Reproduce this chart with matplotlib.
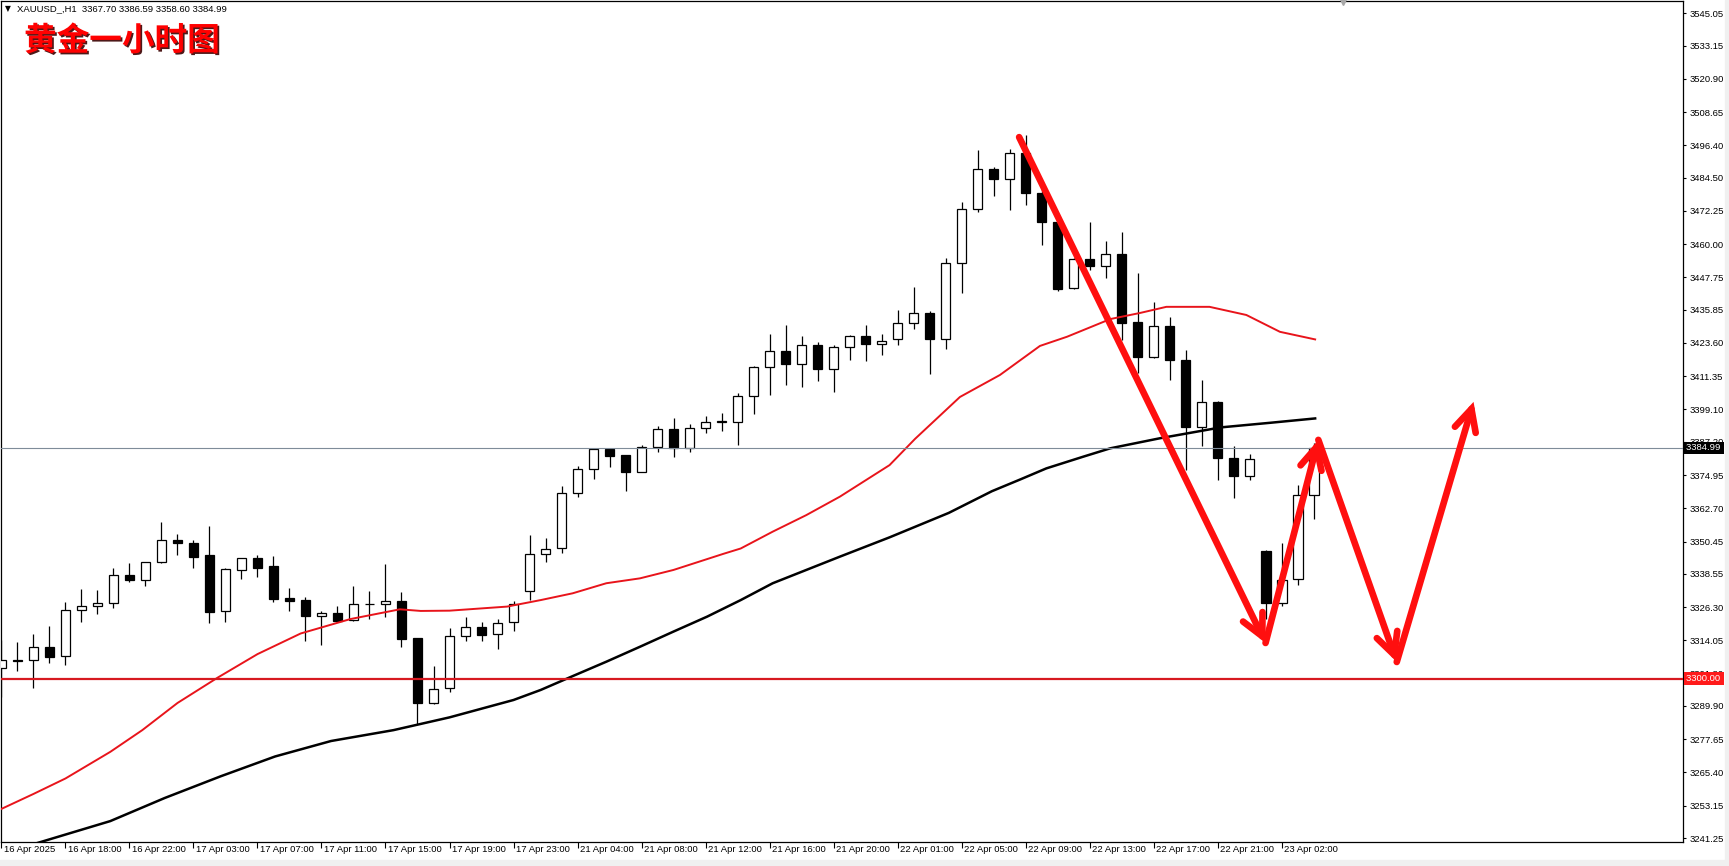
import numpy as np
import matplotlib
matplotlib.use('Agg')
from matplotlib import pyplot as plt
from matplotlib import patheffects
from matplotlib import transforms

plt.rcParams['font.family'] = ['Liberation Sans', 'DejaVu Sans']

# hourly XAUUSD candles, 16 Apr 14:00 -> 23 Apr 04:00 (bar index = position)
opens = [3303.8, 3306.9, 3306.9, 3311.6, 3308.2, 3325.1, 3326.9, 3327.7, 3338.0, 3336.4,
         3343.0, 3350.9, 3349.9, 3345.5, 3324.7, 3340.1, 3344.3, 3341.4, 3329.6, 3328.9,
         3323.2, 3324.0, 3321.6, 3327.3, 3327.3, 3328.5, 3314.9, 3291.1, 3296.4, 3315.8,
         3318.9, 3316.3, 3320.7, 3332.4, 3345.7, 3347.9, 3368.5, 3377.1, 3384.4, 3382.2,
         3376.2, 3385.4, 3391.8, 3384.8, 3392.2, 3394.6, 3394.4, 3403.9, 3414.6, 3420.5,
         3416.0, 3422.7, 3414.1, 3422.0, 3426.0, 3423.1, 3425.2, 3430.8, 3434.5, 3425.2,
         3452.9, 3472.8, 3487.5, 3484.1, 3493.4, 3478.9, 3468.3, 3443.7, 3454.5, 3452.0,
         3456.4, 3431.2, 3418.3, 3429.8, 3417.3, 3392.8, 3402.0, 3381.1, 3374.6, 3347.0,
         3327.7, 3336.5, 3367.70]
highs = [3314.2, 3313.3, 3316.4, 3319.3, 3328.2, 3333.0, 3332.6, 3340.6, 3342.4, 3342.9,
         3357.6, 3353.2, 3351.0, 3356.2, 3340.6, 3344.5, 3345.5, 3345.1, 3333.3, 3329.9,
         3324.7, 3326.7, 3334.1, 3332.4, 3342.2, 3331.9, 3315.0, 3304.6, 3318.5, 3322.5,
         3320.7, 3321.8, 3328.7, 3352.9, 3351.6, 3370.9, 3378.3, 3384.6, 3384.8, 3382.3,
         3385.9, 3393.0, 3395.8, 3393.7, 3396.7, 3397.7, 3405.3, 3415.2, 3426.8, 3430.1,
         3426.0, 3423.8, 3422.7, 3426.5, 3430.1, 3426.9, 3435.6, 3444.1, 3435.4, 3454.8,
         3475.4, 3494.7, 3488.5, 3494.9, 3500.2, 3481.0, 3470.5, 3454.8, 3468.0, 3461.1,
         3464.6, 3449.2, 3438.7, 3433.3, 3421.0, 3409.9, 3402.3, 3385.8, 3382.7, 3347.3,
         3349.8, 3371.3, 3386.59]
lows = [3293.3, 3302.9, 3296.6, 3305.7, 3305.1, 3320.8, 3323.9, 3326.1, 3335.7, 3334.2,
        3342.7, 3345.6, 3340.8, 3320.6, 3320.9, 3336.8, 3337.4, 3328.2, 3324.9, 3313.9,
        3312.5, 3321.0, 3321.3, 3322.0, 3322.5, 3311.7, 3283.3, 3290.6, 3294.9, 3313.9,
        3313.9, 3310.7, 3317.6, 3328.9, 3343.0, 3346.4, 3367.0, 3373.6, 3378.0, 3369.2,
        3376.2, 3383.6, 3381.7, 3383.6, 3390.6, 3391.2, 3386.0, 3397.5, 3404.5, 3408.2,
        3407.5, 3409.7, 3405.6, 3417.4, 3417.1, 3419.2, 3423.0, 3428.9, 3412.3, 3421.5,
        3441.9, 3471.7, 3477.7, 3472.7, 3474.5, 3459.7, 3442.7, 3443.5, 3450.5, 3447.6,
        3424.7, 3412.4, 3417.9, 3409.9, 3376.8, 3385.8, 3373.1, 3366.4, 3373.1, 3322.0,
        3326.7, 3334.3, 3358.60]
closes = [3306.7, 3306.5, 3311.6, 3308.0, 3325.1, 3326.9, 3327.7, 3338.0, 3336.4, 3342.8,
          3350.9, 3349.8, 3344.9, 3324.6, 3340.2, 3344.3, 3340.8, 3329.3, 3328.7, 3323.2,
          3324.0, 3321.3, 3327.3, 3327.5, 3328.4, 3314.7, 3291.1, 3296.0, 3315.8, 3318.9,
          3316.2, 3320.6, 3327.4, 3345.7, 3347.8, 3368.5, 3377.1, 3384.4, 3382.1, 3376.2,
          3385.4, 3391.8, 3385.0, 3392.2, 3394.6, 3394.8, 3404.1, 3414.6, 3420.5, 3416.0,
          3422.7, 3414.1, 3422.0, 3426.0, 3423.1, 3424.2, 3430.8, 3434.5, 3425.2, 3452.9,
          3472.8, 3487.5, 3484.1, 3493.4, 3478.9, 3468.3, 3443.5, 3454.5, 3452.0, 3456.2,
          3431.1, 3418.3, 3429.8, 3417.3, 3392.8, 3402.0, 3381.1, 3374.6, 3380.7, 3327.7,
          3336.3, 3367.6, 3384.99]

# moving averages (bar position, price)
red_ma_x = [0, 2, 4, 6.8, 8.8, 11, 13.5, 16, 18.7, 21.8, 24.9, 26.2, 28.0, 31.6, 33.7,
            35.7, 37.8, 39.9, 42.0, 45.1, 46.2, 48.2, 50.3, 52.4, 55.5, 57.1, 59.9, 62.4,
            64.9, 66.6, 69.3, 71.2, 72.8, 75.5, 77.8, 79.9, 82.1]
red_ma_y = [3252.0, 3257.5, 3263.2, 3273.0, 3281.0, 3291.0, 3300.3, 3309.0, 3316.6, 3321.9,
            3325.5, 3324.9, 3325.0, 3326.5, 3328.9, 3331.4, 3335.1, 3336.9, 3340.0, 3345.9,
            3347.9, 3354.1, 3360.2, 3367.0, 3378.6, 3388.3, 3403.7, 3411.8, 3422.5, 3425.9,
            3432.4, 3434.7, 3436.9, 3436.9, 3433.9, 3427.7, 3424.9]
black_ma_x = [2.0, 6.8, 10.2, 13.7, 17.1, 20.6, 24.5, 28.0, 32.0, 33.7, 35.7, 37.8, 39.9,
              42.0, 44.1, 46.2, 48.2, 50.3, 52.4, 55.5, 59.2, 61.9, 63.7, 65.3, 67.6, 69.3,
              72.4, 76.2, 79.3, 82.1]
black_ma_y = [3239.0, 3247.5, 3256.0, 3264.0, 3271.3, 3277.0, 3281.0, 3285.7, 3292.1, 3295.8,
              3300.9, 3306.2, 3311.7, 3317.3, 3322.8, 3328.9, 3335.1, 3340.0, 3344.9, 3352.0,
              3361.0, 3369.0, 3373.4, 3377.4, 3381.7, 3384.8, 3388.5, 3392.5, 3394.2, 3395.8]

# hand drawn arrows (bar position, price)
arrow_x = [63.6, 79.0, 82.3, 87.2, 92.0]
arrow_y = [3499.4, 3313.1, 3387.9, 3306.1, 3401.9]

support = 3300.00
last_price = 3384.99

ytick_vals = [3545.05, 3533.15, 3520.90, 3508.65, 3496.40, 3484.50, 3472.25, 3460.00,
              3447.75, 3435.85, 3423.60, 3411.35, 3399.10, 3387.20, 3374.95, 3362.70,
              3350.45, 3338.55, 3326.30, 3314.05, 3301.80, 3289.90, 3277.65, 3265.40,
              3253.15, 3241.25]
xtick_pos = list(range(0, 81, 4))
xtick_labels = ['16 Apr 2025', '16 Apr 18:00', '16 Apr 22:00', '17 Apr 03:00', '17 Apr 07:00',
                '17 Apr 11:00', '17 Apr 15:00', '17 Apr 19:00', '17 Apr 23:00', '21 Apr 04:00',
                '21 Apr 08:00', '21 Apr 12:00', '21 Apr 16:00', '21 Apr 20:00', '22 Apr 01:00',
                '22 Apr 05:00', '22 Apr 09:00', '22 Apr 13:00', '22 Apr 17:00', '22 Apr 21:00',
                '23 Apr 02:00']

W, H = 1729, 866
fig = plt.figure(figsize=(W / 100, H / 100), dpi=100)
fig.patch.set_facecolor('white')
ax = fig.add_axes([1 / W, (H - 842) / H, 1682 / W, 841 / H])
ax.set_xlim(-0.03, 105.09)
ax.set_ylim(3239.80, 3549.54)

o = np.array(opens)
c = np.array(closes)
x = np.arange(len(o))
up = c >= o

ax.vlines(x, lows, highs, color='black', lw=0.9, zorder=2)
ax.bar(x, np.abs(c - o), bottom=np.minimum(o, c), width=0.62,
       color=np.where(up, 'white', 'black'), edgecolor='black', linewidth=0.9, zorder=3)

ax.plot(red_ma_x, red_ma_y, color='#e8141b', lw=1.4, zorder=4)
ax.plot(black_ma_x, black_ma_y, color='black', lw=1.8, zorder=4)
ax.axhline(support, color='#d71920', lw=1.6, zorder=5)
ax.axhline(last_price, color='#7f8c99', lw=0.8, zorder=5)

for i in range(len(arrow_x) - 1):
    ax.annotate('', xy=(arrow_x[i + 1], arrow_y[i + 1]), xytext=(arrow_x[i], arrow_y[i]),
                arrowprops=dict(arrowstyle='->, head_length=1.3, head_width=0.65', color='#ff0f0f',
                                lw=4.8, mutation_scale=12, shrinkA=0, shrinkB=0,
                                capstyle='round', joinstyle='miter'), zorder=6)

# right price axis
ax.yaxis.tick_right()
ax.set_yticks(ytick_vals)
ax.set_yticklabels([f'{v:.2f}' for v in ytick_vals])
ax.tick_params(axis='y', length=2.5, width=0.8, pad=2.5, labelsize=6.8, colors='black')
ax.set_xticks(xtick_pos)
ax.tick_params(axis='x', length=4, width=0.8, labelbottom=False)
for pos, lab in zip(xtick_pos, xtick_labels):
    ax.annotate(lab, xy=(pos, 0), xycoords=('data', 'axes fraction'), xytext=(1.5, -2.5),
                textcoords='offset points', ha='left', va='top', fontsize=6.8)
for s in ax.spines.values():
    s.set_linewidth(0.9)

tr = transforms.blended_transform_factory(ax.transAxes, ax.transData)
ax.text(1.0015, last_price, '3384.99 ', transform=tr, ha='left', va='center', fontsize=6.8,
        color='white', bbox=dict(facecolor='black', edgecolor='none', pad=1.2), zorder=10)
ax.text(1.0015, support, '3300.00 ', transform=tr, ha='left', va='center', fontsize=6.8,
        color='white', bbox=dict(facecolor='#ff1a1a', edgecolor='none', pad=1.2), zorder=10)

# chart shift marker
ax.plot([0.798], [1.0], marker='v', color='#a8a8a8', ms=6, transform=ax.transAxes,
        clip_on=False, zorder=10)

# header texts
fig.text(5 / W, 1 - 9 / H, '\u25bc', fontsize=5.5, va='center', ha='left', family='DejaVu Sans')
fig.text(17 / W, 1 - 9 / H, 'XAUUSD_,H1  3367.70 3386.59 3358.60 3384.99', fontsize=6.8,
         va='center', ha='left')
t = fig.text(24 / W, 1 - 41 / H, '黄金一小时图', fontsize=23.5, fontweight='bold', color='#ff0000',
             va='center', ha='left', family=['Noto Sans CJK SC'])
t.set_path_effects([patheffects.withSimplePatchShadow(offset=(1.2, -1.2), shadow_rgbFace='#3a0000',
                                                      alpha=0.9)])

# window edges
fig.add_artist(plt.Rectangle((0, 0), 1, 6 / H, transform=fig.transFigure, color='#f0f0f0', zorder=0))
fig.add_artist(plt.Rectangle((1725 / W, 0), 4 / W, 1, transform=fig.transFigure, color='#f0f0f0', zorder=0))

fig.savefig('out.png', dpi=100)
